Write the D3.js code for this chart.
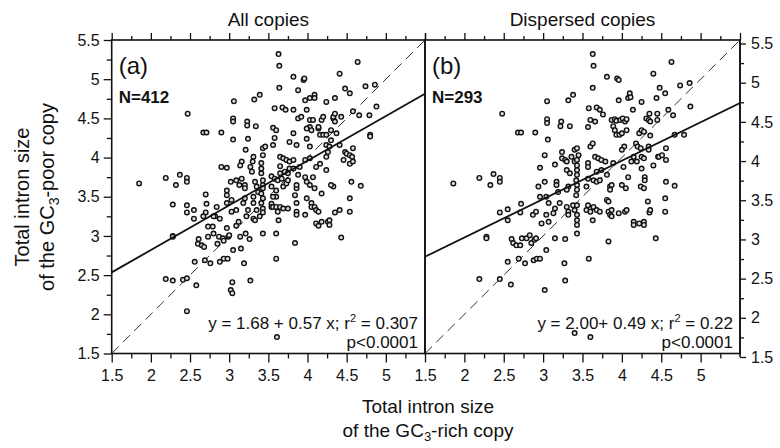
<!DOCTYPE html>
<html>
<head>
<meta charset="utf-8">
<script src="https://cdnjs.cloudflare.com/ajax/libs/d3/7.8.5/d3.min.js"></script>
<style>
  body { margin: 0; background: #fff; }
  text { fill: #111; }
  .narrow { font-family: "Liberation Sans Narrow", "Liberation Sans", Arial, sans-serif; }
  .tick text { font-family: "Liberation Sans Narrow", "Liberation Sans", Arial, sans-serif; font-size: 16px; fill: #111; }
  .tick line { stroke: #111; stroke-width: 1.3; }
</style>
</head>
<body>
<div id="chart"></div>
<script>
var w = 780, h = 448;

// tick values shared by both panels
var xTickValues = [1.5, 2, 2.5, 3, 3.5, 4, 4.5, 5];
var yTickValues = [1.5, 2, 2.5, 3, 3.5, 4, 4.5, 5, 5.5];
var minorTickValues = [1.75, 2.25, 2.75, 3.25, 3.75, 4.25, 4.75, 5.25];

var panelTitles = ["All copies", "Dispersed copies"];
var panelLetters = ["(a)", "(b)"];
var panelN = ["N=412", "N=293"];
var fitIntercepts = [1.68, 2.00];
var fitSlopes = [0.57, 0.49];
var fitLabels = [["y = 1.68 + 0.57 x; r", "2", " = 0.307"], ["y = 2.00+ 0.49 x; r", "2", " = 0.22"]];

// (GC3-rich, GC3-poor) total intron size
var allCopies = [[1.85,3.67],[2.19,3.74],[2.28,3.40],[2.32,3.65],[2.37,3.78],[2.46,3.74],[2.46,3.69],[2.47,4.56],[2.19,2.45],[2.28,2.43],[2.41,2.44],[2.46,2.46],[2.28,3.00],[2.28,2.99],[2.46,3.39],[2.46,3.30],[2.55,3.33],[2.58,2.37],[2.46,2.04],[2.67,4.32],[2.71,4.32],[2.90,4.32],[2.70,3.53],[2.71,3.41],[2.70,3.30],[2.67,3.25],[2.61,2.96],[2.60,2.90],[2.65,2.88],[2.68,2.86],[2.56,2.67],[2.69,2.69],[2.76,2.65],[2.88,2.67],[2.93,2.71],[2.98,2.71],[2.73,2.99],[2.80,3.03],[2.85,2.90],[2.87,2.99],[2.92,2.97],[2.97,3.10],[2.99,2.99],[3.00,3.01],[2.93,2.94],[3.03,3.31],[3.06,4.72],[3.05,4.50],[3.05,4.46],[3.05,4.23],[2.97,3.87],[3.02,3.69],[2.97,3.58],[2.97,3.52],[3.03,3.46],[2.97,3.42],[2.84,3.37],[2.82,3.25],[2.88,3.22],[2.79,3.12],[3.04,2.41],[3.02,2.31],[3.04,2.27],[3.05,2.82],[3.15,2.84],[3.19,2.65],[3.27,2.43],[3.26,2.96],[3.09,3.13],[3.12,3.18],[3.14,2.99],[3.21,3.03],[3.22,3.25],[3.24,3.33],[3.18,3.42],[3.20,3.48],[3.09,3.33],[3.13,3.65],[3.09,3.71],[3.16,3.95],[3.14,3.90],[3.16,3.73],[3.20,3.65],[3.20,3.61],[3.21,4.10],[3.24,4.24],[3.23,4.46],[3.23,4.41],[3.32,4.74],[3.39,4.80],[3.34,4.40],[3.29,3.82],[3.31,4.01],[3.30,3.95],[3.27,3.88],[3.33,3.69],[3.35,3.63],[3.37,3.56],[3.31,3.50],[3.31,3.42],[3.35,3.33],[3.31,3.22],[3.33,3.20],[3.39,3.25],[3.43,3.03],[3.43,4.12],[3.46,4.14],[3.43,4.03],[3.41,3.93],[3.41,3.86],[3.41,3.80],[3.43,3.71],[3.43,3.65],[3.43,3.61],[3.41,3.54],[3.43,3.48],[3.41,3.42],[3.43,3.35],[3.43,3.30],[3.56,4.16],[3.58,4.25],[3.56,4.38],[3.60,4.35],[3.58,4.63],[3.63,5.32],[3.64,5.17],[3.64,4.89],[3.68,4.64],[3.60,2.71],[3.60,3.03],[3.63,3.20],[3.60,3.50],[3.56,3.50],[3.54,3.41],[3.54,3.37],[3.56,3.37],[3.60,3.37],[3.65,3.37],[3.69,3.35],[3.75,3.35],[3.62,3.31],[3.54,3.63],[3.60,3.58],[3.54,3.76],[3.58,3.73],[3.62,3.71],[3.67,3.73],[3.65,3.80],[3.71,3.82],[3.75,3.80],[3.77,3.86],[3.82,3.86],[3.65,3.89],[3.65,4.01],[3.69,3.99],[3.73,3.97],[3.77,3.95],[3.82,3.97],[3.69,3.63],[3.73,3.67],[3.75,3.71],[3.72,4.61],[3.77,4.20],[3.82,4.61],[3.82,4.31],[3.84,3.52],[3.86,3.61],[3.86,3.65],[3.86,3.42],[3.86,3.31],[3.86,3.27],[3.88,3.78],[3.90,3.88],[3.84,2.91],[3.82,5.03],[3.95,4.99],[3.96,5.01],[3.88,4.86],[3.88,4.50],[3.92,4.52],[3.86,4.16],[3.99,4.61],[3.97,4.73],[4.03,4.76],[4.09,4.80],[4.09,4.76],[4.03,4.39],[3.99,4.37],[4.05,4.35],[4.03,4.48],[4.07,4.48],[3.99,4.24],[4.03,4.14],[3.97,3.97],[4.03,3.99],[3.97,3.75],[4.07,3.75],[3.99,3.69],[4.03,3.65],[3.99,3.48],[3.97,3.27],[4.05,3.42],[4.05,3.37],[4.09,3.37],[4.11,3.33],[4.14,3.31],[4.09,3.61],[4.11,3.16],[4.14,3.13],[4.18,3.18],[4.18,3.54],[4.11,3.88],[4.16,3.92],[4.16,4.29],[4.20,4.29],[4.24,4.29],[4.14,4.37],[4.14,4.39],[4.18,4.48],[4.20,4.52],[4.24,4.71],[4.35,4.76],[4.33,4.50],[4.33,4.52],[4.35,4.46],[4.35,4.56],[4.24,4.16],[4.28,4.14],[4.26,4.07],[4.30,4.22],[4.24,4.01],[4.24,3.84],[4.26,3.18],[4.28,3.20],[4.28,3.14],[4.35,3.30],[4.33,3.63],[4.30,3.65],[4.30,4.35],[4.37,4.31],[4.41,4.16],[4.41,5.07],[4.43,4.52],[4.43,2.98],[4.48,4.88],[4.54,4.82],[4.48,4.07],[4.50,4.05],[4.54,4.03],[4.54,3.92],[4.46,3.97],[4.41,3.33],[4.54,3.31],[4.54,3.48],[4.56,3.69],[4.58,4.59],[4.66,4.54],[4.58,4.12],[4.57,4.01],[4.58,3.95],[4.68,3.64],[4.64,5.22],[4.74,4.91],[4.80,4.29],[4.80,4.27],[4.86,4.93],[4.79,4.54],[4.88,4.65],[3.61,1.71],[2.90,3.88],[2.73,3.12],[2.80,3.25],[2.55,3.22]];

var dispersedCopies = [[1.86,3.67],[2.19,3.74],[2.33,3.65],[2.37,3.79],[2.45,3.74],[2.45,3.69],[2.48,4.56],[2.19,2.45],[2.45,2.45],[2.59,2.38],[2.28,2.99],[2.28,2.97],[2.45,3.30],[2.55,3.34],[2.55,3.20],[2.55,2.67],[2.60,2.96],[2.62,2.91],[2.66,2.88],[2.71,2.88],[2.69,2.71],[2.68,4.32],[2.72,4.32],[2.72,3.41],[2.71,3.30],[2.77,2.65],[2.73,2.97],[2.79,2.97],[2.83,3.01],[2.85,2.91],[2.90,4.32],[2.87,3.27],[2.91,3.31],[2.88,2.69],[2.92,2.71],[2.96,2.71],[2.89,2.95],[2.91,2.97],[3.04,2.82],[3.02,2.31],[3.02,4.03],[3.05,4.72],[3.05,4.49],[3.05,4.44],[3.06,4.23],[2.96,3.87],[3.02,3.69],[2.96,3.50],[3.04,3.50],[3.07,3.42],[3.04,3.27],[2.98,3.16],[3.07,3.18],[3.15,2.97],[3.15,3.91],[3.17,3.69],[3.17,3.65],[3.19,3.56],[3.15,3.35],[3.13,3.29],[3.21,3.42],[3.24,4.07],[3.22,4.40],[3.23,4.46],[3.27,2.65],[3.28,2.43],[3.28,2.96],[3.24,3.99],[3.28,3.97],[3.30,3.95],[3.36,4.01],[3.40,3.95],[3.32,4.73],[3.38,4.80],[3.34,4.40],[3.30,3.84],[3.34,3.80],[3.32,3.63],[3.30,3.59],[3.30,3.37],[3.32,3.31],[3.32,3.27],[3.38,3.39],[3.40,3.33],[3.43,3.27],[3.43,3.20],[3.43,3.14],[3.43,3.39],[3.43,3.03],[3.40,4.10],[3.43,4.12],[3.45,4.03],[3.43,3.97],[3.43,3.90],[3.43,3.84],[3.43,3.78],[3.42,3.71],[3.43,3.65],[3.43,3.59],[3.42,3.52],[3.57,4.39],[3.60,4.48],[3.58,4.63],[3.63,5.32],[3.64,5.17],[3.63,4.89],[3.68,4.64],[3.58,2.71],[3.57,3.93],[3.57,3.88],[3.60,4.14],[3.63,4.18],[3.57,3.73],[3.55,3.63],[3.60,3.35],[3.64,3.37],[3.68,3.33],[3.72,3.31],[3.57,3.39],[3.55,3.33],[3.60,3.31],[3.63,3.20],[3.64,3.71],[3.68,3.69],[3.72,3.71],[3.66,4.01],[3.70,3.99],[3.74,3.97],[3.79,3.95],[3.68,3.82],[3.74,3.84],[3.66,4.46],[3.76,4.55],[3.72,4.61],[3.81,5.03],[3.83,2.93],[3.81,3.46],[3.83,3.44],[3.83,3.31],[3.87,3.33],[3.85,3.27],[3.87,3.25],[3.85,3.63],[3.87,3.65],[3.85,3.59],[3.81,3.78],[3.89,3.93],[3.94,5.01],[3.96,4.99],[3.96,4.73],[3.87,4.48],[3.91,4.49],[3.93,4.47],[3.98,4.48],[4.01,4.50],[3.89,4.40],[3.91,4.35],[3.93,4.29],[3.97,4.29],[4.00,4.31],[4.04,4.46],[4.06,4.49],[4.03,4.14],[4.00,4.10],[4.02,3.88],[4.00,3.65],[3.96,3.29],[4.04,3.31],[4.06,3.33],[4.08,3.75],[4.05,3.61],[4.08,4.76],[4.10,4.82],[4.11,4.77],[4.14,4.61],[4.15,4.01],[4.12,3.95],[4.19,3.95],[4.06,4.35],[4.18,4.18],[4.20,4.14],[4.24,4.12],[4.22,4.31],[4.25,4.71],[4.15,3.18],[4.15,3.14],[4.22,3.16],[4.28,3.18],[4.28,3.14],[4.25,4.35],[4.28,4.33],[4.25,4.01],[4.28,3.99],[4.25,3.86],[4.29,3.75],[4.29,3.71],[4.24,3.63],[4.28,3.61],[4.34,4.14],[4.34,4.10],[4.35,3.30],[4.33,3.44],[4.36,3.33],[4.31,4.50],[4.34,4.48],[4.36,4.46],[4.36,4.28],[4.40,5.07],[4.44,4.76],[4.35,4.56],[4.43,2.97],[4.40,3.90],[4.45,4.56],[4.45,4.48],[4.46,4.01],[4.48,4.89],[4.55,4.82],[4.47,4.01],[4.51,4.03],[4.56,4.12],[4.56,3.97],[4.56,3.69],[4.55,3.48],[4.55,3.31],[4.63,5.22],[4.65,4.54],[4.59,4.61],[4.67,3.64],[4.74,4.92],[4.79,4.29],[4.86,4.95],[4.87,4.65],[4.67,4.29],[3.40,1.76],[3.60,1.71],[2.94,3.63]];

var panelData = [allCopies, dispersedCopies];

var svg = d3.select("#chart").append("svg")
  .attr("width", w)
  .attr("height", h);

var plotTop = 40, plotBottom = 353.5;
var xScales = [
  d3.scaleLinear().domain([1.5, 5.5]).range([111.7, 425]),
  d3.scaleLinear().domain([1.5, 5.5]).range([425, 740])
];
var yScale = d3.scaleLinear().domain([1.5, 5.5]).range([plotBottom, plotTop]);
// the right-hand axis of the original sits a few pixels lower
var yRightScale = d3.scaleLinear().domain([1.5, 5.5]).range([plotBottom + 3.5, plotTop + 3.5]);

xScales.forEach(function(x, i) {
  var x0 = x.range()[0], x1 = x.range()[1];

  svg.append("clipPath")
    .attr("id", "clip" + i)
    .append("rect")
    .attr("x", x0).attr("y", plotTop)
    .attr("width", x1 - x0).attr("height", plotBottom - plotTop);

  var plot = svg.append("g").attr("clip-path", "url(#clip" + i + ")");

  // y = x reference
  plot.append("line")
    .attr("x1", x(1.5)).attr("y1", yScale(1.5))
    .attr("x2", x(5.5)).attr("y2", yScale(5.5))
    .attr("stroke", "#333")
    .attr("stroke-width", 1)
    .attr("stroke-dasharray", "10,6");

  plot.selectAll("circle")
    .data(panelData[i])
    .enter().append("circle")
    .attr("cx", function(d) { return x(d[0]); })
    .attr("cy", function(d) { return yScale(d[1]); })
    .attr("r", 2.3)
    .attr("fill", "#ddd")
    .attr("stroke", "#111")
    .attr("stroke-width", 1.4);

  plot.append("line")
    .attr("x1", x(1.5)).attr("y1", yScale(fitIntercepts[i] + fitSlopes[i] * 1.5))
    .attr("x2", x(5.5)).attr("y2", yScale(fitIntercepts[i] + fitSlopes[i] * 5.5))
    .attr("stroke", "#111")
    .attr("stroke-width", 1.8);

  // bottom axis
  svg.append("g")
    .attr("transform", "translate(0," + plotBottom + ")")
    .call(d3.axisBottom(x).tickValues(xTickValues).tickSize(9).tickPadding(7).tickFormat(d3.format("")))
    .call(function(g) { g.select(".domain").remove(); });
  svg.append("g")
    .attr("transform", "translate(0," + plotBottom + ")")
    .call(d3.axisBottom(x).tickValues(minorTickValues).tickSize(5).tickFormat(""))
    .call(function(g) { g.select(".domain").remove(); });

  // top axis
  svg.append("g")
    .attr("transform", "translate(0," + plotTop + ")")
    .call(d3.axisTop(x).tickValues(xTickValues.concat([5.5])).tickSize(7).tickFormat(""))
    .call(function(g) { g.select(".domain").remove(); });
  svg.append("g")
    .attr("transform", "translate(0," + plotTop + ")")
    .call(d3.axisTop(x).tickValues(minorTickValues).tickSize(4).tickFormat(""))
    .call(function(g) { g.select(".domain").remove(); });

  // frame
  svg.append("rect")
    .attr("x", x0).attr("y", plotTop)
    .attr("width", x1 - x0).attr("height", plotBottom - plotTop)
    .attr("fill", "none")
    .attr("stroke", "#111")
    .attr("stroke-width", 1.6);

  svg.append("text")
    .attr("class", "narrow")
    .attr("x", (x0 + x1) / 2).attr("y", 26)
    .attr("text-anchor", "middle")
    .style("font-size", "19px")
    .text(panelTitles[i]);

  svg.append("text")
    .attr("x", x0 + 7).attr("y", 74)
    .style("font-family", "Liberation Sans, Arial, sans-serif")
    .style("font-size", "24px")
    .text(panelLetters[i]);

  svg.append("text")
    .attr("x", x0 + 7).attr("y", 103)
    .style("font-family", "Liberation Sans, Arial, sans-serif")
    .style("font-size", "17px")
    .style("font-weight", "bold")
    .text(panelN[i]);

  var eq = svg.append("text")
    .attr("x", x1 - 7).attr("y", 329)
    .attr("text-anchor", "end")
    .style("font-family", "Liberation Sans, Arial, sans-serif")
    .style("font-size", "17px");
  eq.append("tspan").text(fitLabels[i][0]);
  eq.append("tspan").attr("dy", -7).style("font-size", "11px").text(fitLabels[i][1]);
  eq.append("tspan").attr("dy", 7).text(fitLabels[i][2]);

  svg.append("text")
    .attr("x", x1 - 7).attr("y", 348)
    .attr("text-anchor", "end")
    .style("font-family", "Liberation Sans, Arial, sans-serif")
    .style("font-size", "17px")
    .text("p<0.0001");
});

// left axis
svg.append("g")
  .attr("transform", "translate(" + xScales[0].range()[0] + ",0)")
  .call(d3.axisLeft(yScale).tickValues(yTickValues).tickSize(8).tickPadding(4).tickFormat(d3.format("")))
  .call(function(g) { g.select(".domain").remove(); });
svg.append("g")
  .attr("transform", "translate(" + xScales[0].range()[0] + ",0)")
  .call(d3.axisLeft(yScale).tickValues(minorTickValues).tickSize(5).tickFormat(""))
  .call(function(g) { g.select(".domain").remove(); });

// right axis
var rx = xScales[1].range()[1];
svg.append("g")
  .attr("transform", "translate(" + rx + ",0)")
  .call(d3.axisRight(yRightScale).tickValues(yTickValues).tickSize(6).tickPadding(5).tickFormat(d3.format("")))
  .call(function(g) { g.select(".domain").remove(); });
svg.append("g")
  .attr("transform", "translate(" + rx + ",0)")
  .call(d3.axisRight(yRightScale).tickValues(minorTickValues).tickSize(4).tickFormat(""))
  .call(function(g) { g.select(".domain").remove(); });
svg.append("line")
  .attr("x1", rx).attr("x2", rx)
  .attr("y1", plotTop).attr("y2", yRightScale(1.5))
  .attr("stroke", "#111").attr("stroke-width", 1.6);

// axis titles
var yTitle = svg.append("text")
  .attr("class", "narrow")
  .attr("transform", "translate(29,197) rotate(-90)")
  .attr("text-anchor", "middle")
  .style("font-size", "20px");
yTitle.append("tspan").attr("x", 0).attr("y", 0).text("Total intron size");
var yLine2 = yTitle.append("tspan").attr("x", 0).attr("y", 25);
yLine2.append("tspan").text("of the GC");
yLine2.append("tspan").attr("dy", 5).style("font-size", "14px").text("3");
yLine2.append("tspan").attr("dy", -5).text("-poor copy");

var xTitle = svg.append("text")
  .attr("class", "narrow")
  .attr("transform", "translate(428,413)")
  .attr("text-anchor", "middle")
  .style("font-size", "19px");
xTitle.append("tspan").attr("x", 0).attr("y", 0).text("Total intron size");
var xLine2 = xTitle.append("tspan").attr("x", 0).attr("y", 24);
xLine2.append("tspan").text("of the GC");
xLine2.append("tspan").attr("dy", 4).style("font-size", "13px").text("3");
xLine2.append("tspan").attr("dy", -4).text("-rich copy");
</script>
</body>
</html>
